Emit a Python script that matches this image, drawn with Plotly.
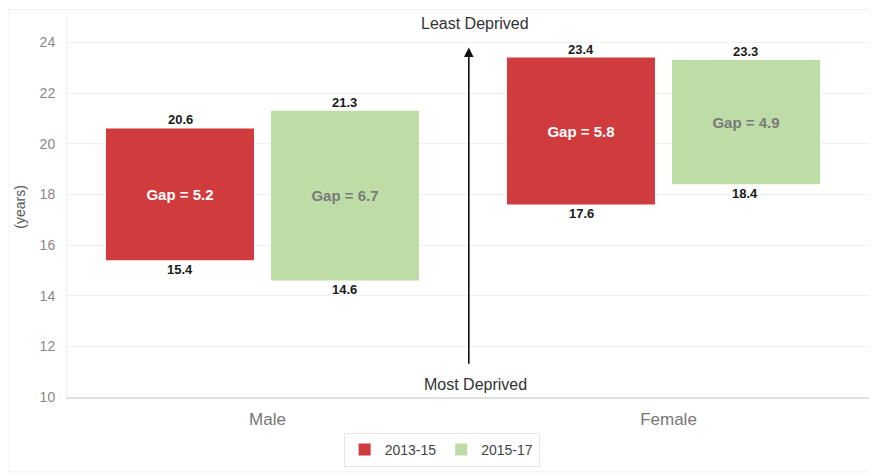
import plotly.graph_objects as go

categories = ["Male", "Female"]
series_names = ["2013-15", "2015-17"]
most_deprived = {"2013-15": [15.4, 17.6], "2015-17": [14.6, 18.4]}
least_deprived = {"2013-15": [20.6, 23.4], "2015-17": [21.3, 23.3]}
colors = {"2013-15": "#D03B3E", "2015-17": "#BEDDA6"}
gap_text_colors = {"2013-15": "#FFFFFF", "2015-17": "#7A7A7A"}
y_ticks = [10, 12, 14, 16, 18, 20, 22, 24]

FONT = "Liberation Sans, Arial, sans-serif"

fig = go.Figure()
for name in series_names:
    lo = most_deprived[name]
    hi = least_deprived[name]
    gaps = [round(h - l, 1) for h, l in zip(hi, lo)]
    fig.add_trace(go.Bar(
        name=name, x=categories, y=[h - l for h, l in zip(hi, lo)], base=lo,
        marker=dict(color=colors[name], line=dict(width=0)),
        text=[f"Gap = {g}" for g in gaps], textposition="inside",
        insidetextanchor="middle", textangle=0,
        textfont=dict(family=FONT, size=15, color=gap_text_colors[name], weight="bold"),
        hoverinfo="skip",
    ))

annotations = []
shift = 82
for i, name in enumerate(series_names):
    xs = -shift if i == 0 else shift
    for c, h, l in zip(categories, least_deprived[name], most_deprived[name]):
        annotations.append(dict(x=c, y=h, xref="x", yref="y", text=f"{h}", showarrow=False,
                                xshift=xs, yanchor="bottom", yshift=-1,
                                font=dict(family=FONT, size=13, color="#1a1a1a", weight="bold")))
        annotations.append(dict(x=c, y=l, xref="x", yref="y", text=f"{l}", showarrow=False,
                                xshift=xs, yanchor="top", yshift=0,
                                font=dict(family=FONT, size=13, color="#1a1a1a", weight="bold")))

# arrow between groups (x as fraction of plot width, y in data)
annotations.append(dict(x=0.501, y=23.8, ax=0.501, ay=11.25, xref="x domain", yref="y",
                        axref="x domain", ayref="y",
                        showarrow=True, arrowhead=2, arrowsize=1.2, arrowwidth=1.6,
                        arrowcolor="#111111", text=""))
annotations.append(dict(x=0.509, y=0.984, xref="paper", yref="paper", text="Least Deprived",
                        showarrow=False, yanchor="middle",
                        font=dict(family=FONT, size=16, color="#333333")))
annotations.append(dict(x=0.509, y=10.5, xref="paper", yref="y", text="Most Deprived",
                        showarrow=False, yanchor="middle",
                        font=dict(family=FONT, size=16, color="#333333")))

d = 0.0125  # small shift of the category centres relative to their labels
fig.update_layout(
    width=869, height=468,
    margin=dict(l=59, r=8, t=9, b=79, autoexpand=False),
    paper_bgcolor="white", plot_bgcolor="white",
    barmode="group", bargap=0.177, bargroupgap=0.103,
    font=dict(family=FONT, color="#666666"),
    annotations=annotations,
    showlegend=True,
    legend=dict(orientation="h", x=0.499, xanchor="center", xref="container",
                y=0.092, yanchor="top", yref="container",
                bordercolor="#E6E6E6", borderwidth=1, bgcolor="white",
                font=dict(family=FONT, size=14, color="#444444"),
                itemwidth=30, traceorder="normal"),
    shapes=[dict(type="rect", xref="paper", yref="paper", x0=-0.0736, x1=1.006, y0=-0.197, y1=1.02,
                 line=dict(color="#EEEEEE", width=1), layer="below")],
)
fig.update_xaxes(range=[-0.5 + d, 1.5 + d], showgrid=False, showline=True, linecolor="#E0E0E0",
                 linewidth=1.5, mirror=False,
                 tickfont=dict(family=FONT, size=17, color="#777777"), ticks="",
                 ticklabelstandoff=6, ticklabelshift=5, automargin=False)
fig.update_yaxes(range=[10, 25], tickvals=y_ticks, showgrid=True, gridcolor="#F0F0F0",
                 zeroline=False, showline=True, linecolor="#F0F0F0", mirror=True,
                 tickfont=dict(family=FONT, size=14, color="#888888"), automargin=False,
                 ticklabelstandoff=8,
                 title=dict(text="(years)", font=dict(family=FONT, size=14, color="#555555"), standoff=10))

fig.write_html("out.html")
